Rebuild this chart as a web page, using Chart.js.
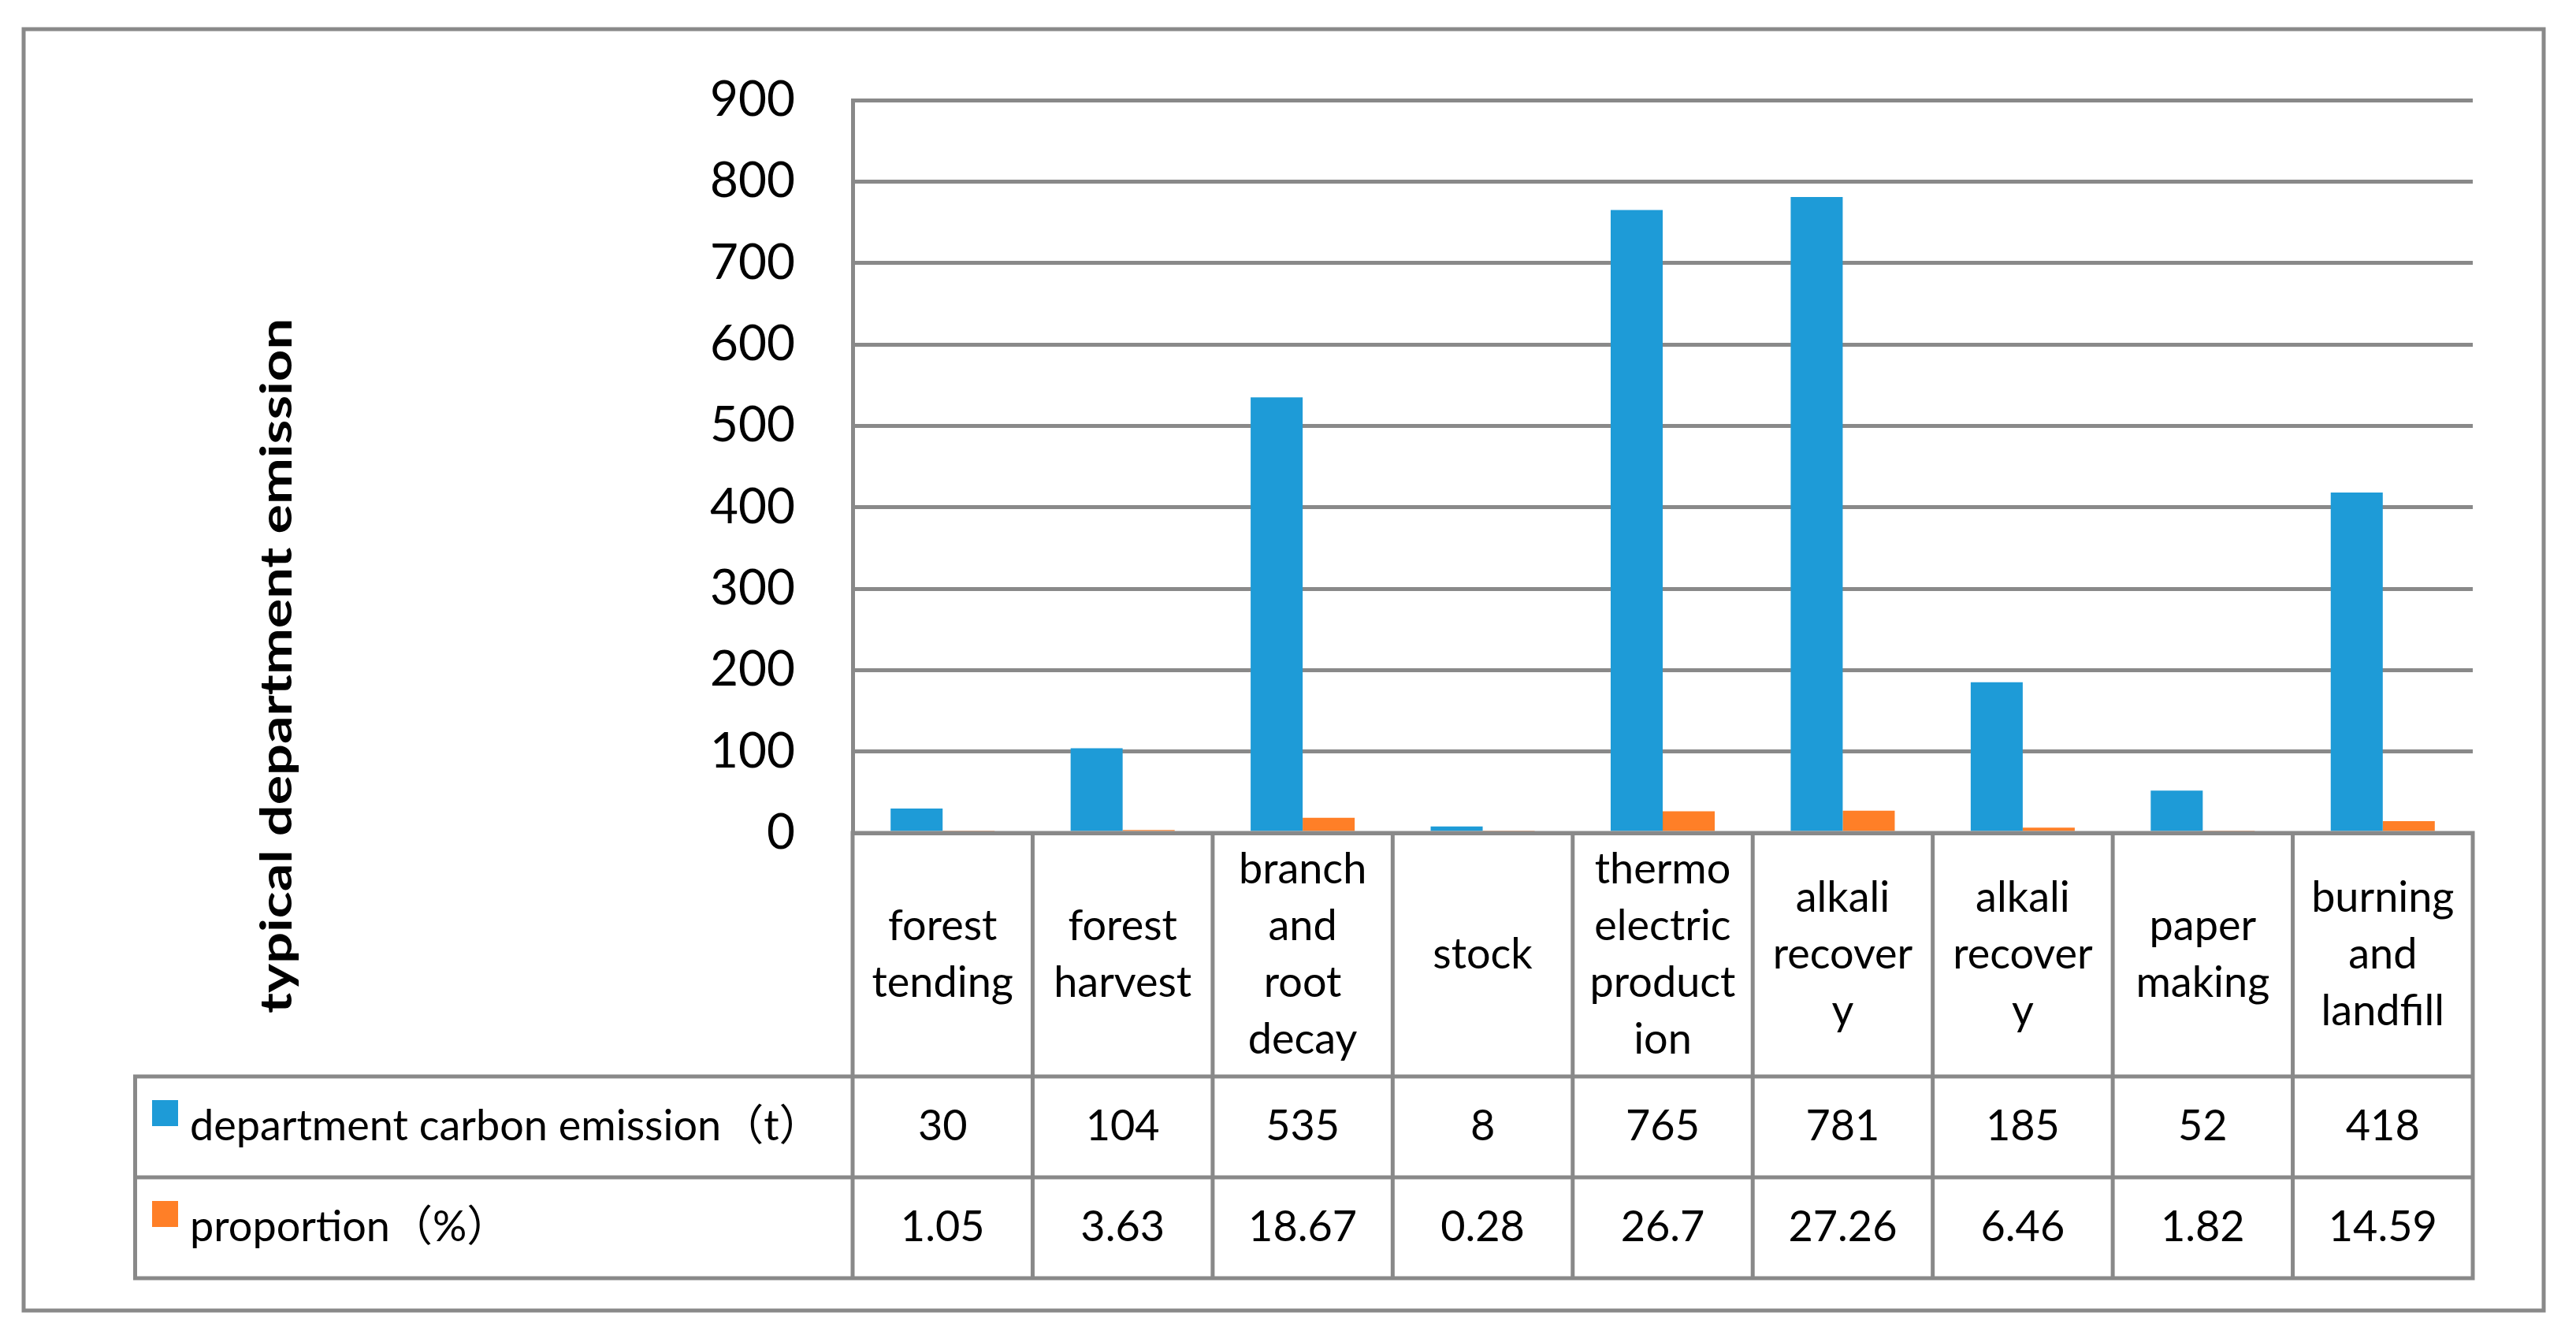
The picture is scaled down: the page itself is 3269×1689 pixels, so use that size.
<!DOCTYPE html>
<html>
<head>
<meta charset="utf-8">
<script src="https://cdn.jsdelivr.net/npm/chart.js@4.4.1/dist/chart.umd.min.js"></script>
<style>
  html, body { margin: 0; padding: 0; background: #fff; }
  canvas { display: block; }
</style>
</head>
<body>
<canvas id="emissionChart" width="3269" height="1689"></canvas>
<script>
// category names, wrapped the way the table cells wrap them
const categories = [
    ['forest', 'tending'],
    ['forest', 'harvest'],
    ['branch', 'and', 'root', 'decay'],
    ['stock'],
    ['thermo', 'electric', 'product', 'ion'],
    ['alkali', 'recover', 'y'],
    ['alkali', 'recover', 'y'],
    ['paper', 'making'],
    ['burning', 'and', 'landfill']
];
const emission = [30, 104, 535, 8, 765, 781, 185, 52, 418];
const proportion = [1.05, 3.63, 18.67, 0.28, 26.7, 27.26, 6.46, 1.82, 14.59];
const seriesNames = ['department carbon emission（t）', 'proportion（%）'];
const yTicks = [0, 100, 200, 300, 400, 500, 600, 700, 800, 900];
const yTitle = 'typical department emission';

const seriesColors = ['#1E9BD7', '#FF7F27'];
const lineColor = '#898989';
const textFont = "Lato, 'Noto Sans CJK SC', sans-serif";

// draws the data table under the plot, the frame and the rotated axis title
const tablePlugin = {
    id: 'dataTable',
    afterDraw(chart) {
        const { ctx, chartArea } = chart;
        const x = chart.scales.x;
        const n = categories.length;
        const step = x.getPixelForValue(1) - x.getPixelForValue(0);
        const left = x.getPixelForValue(0) - step / 2;
        const right = x.getPixelForValue(n - 1) + step / 2;
        const top = chartArea.bottom;
        const headBottom = top + 309;
        const rowH = 128;
        const bottom = headBottom + rowH * 2;
        const legendLeft = 171.5;

        ctx.save();
        ctx.strokeStyle = lineColor;
        ctx.lineWidth = 5;
        ctx.lineCap = 'square';
        ctx.beginPath();
        // axis line sits over the bar bases
        ctx.moveTo(left, top);
        ctx.lineTo(right, top);
        for (let i = 0; i <= n; i++) {
            const xx = left + i * step;
            ctx.moveTo(xx, top);
            ctx.lineTo(xx, bottom);
        }
        ctx.moveTo(legendLeft, headBottom);
        ctx.lineTo(legendLeft, bottom);
        for (let r = 0; r <= 2; r++) {
            const yy = headBottom + r * rowH;
            ctx.moveTo(legendLeft, yy);
            ctx.lineTo(right, yy);
        }
        ctx.stroke();

        // chart border
        ctx.lineCap = 'butt';
        ctx.strokeRect(30, 37, 3198, 1626);

        // category header cells
        ctx.fillStyle = '#000';
        ctx.font = '54px ' + textFont;
        ctx.textAlign = 'center';
        ctx.textBaseline = 'alphabetic';
        const mid = (top + headBottom) / 2;
        categories.forEach((lines, i) => {
            const cx = x.getPixelForValue(i);
            lines.forEach((line, j) => {
                const by = mid + 17 + (j - (lines.length - 1) / 2) * 72;
                ctx.fillText(line, cx, by);
            });
        });

        // value rows
        [emission, proportion].forEach((values, r) => {
            const by = headBottom + r * rowH + rowH / 2 + 17;
            values.forEach((v, i) => {
                ctx.fillText(String(v), x.getPixelForValue(i), by);
            });
            ctx.fillStyle = seriesColors[r];
            ctx.fillRect(193, by - 51, 33, 33);
            ctx.fillStyle = '#000';
            ctx.textAlign = 'left';
            ctx.fillText(seriesNames[r], 241, by);
            ctx.textAlign = 'center';
        });

        // y axis title
        ctx.translate(370, 845);
        ctx.rotate(-Math.PI / 2);
        ctx.font = 'bold 56px ' + textFont;
        const w = ctx.measureText(yTitle).width;
        ctx.scale(882 / w, 1);
        ctx.fillText(yTitle, 0, 0);
        ctx.restore();
    }
};

new Chart(document.getElementById('emissionChart'), {
    type: 'bar',
    data: {
        labels: categories.map(c => c.join(' ')),
        datasets: [
            {
                label: seriesNames[0],
                data: emission,
                backgroundColor: seriesColors[0]
            },
            {
                label: seriesNames[1],
                data: proportion,
                backgroundColor: seriesColors[1]
            }
        ]
    },
    options: {
        responsive: false,
        devicePixelRatio: 1,
        animation: false,
        datasets: {
            bar: { categoryPercentage: 0.578, barPercentage: 1 }
        },
        layout: {
            padding: { left: 0, top: 127, right: 131, bottom: 632 }
        },
        plugins: {
            legend: { display: false },
            tooltip: { enabled: false }
        },
        scales: {
            x: { display: false },
            y: {
                min: yTicks[0],
                max: yTicks[yTicks.length - 1],
                ticks: {
                    stepSize: yTicks[1] - yTicks[0],
                    padding: 73,
                    color: '#000',
                    font: { family: textFont, size: 62 }
                },
                grid: { color: lineColor, lineWidth: 5, drawTicks: false },
                border: { display: true, color: lineColor, width: 5 },
                afterFit(scale) { scale.width = 1082; }
            }
        }
    },
    plugins: [tablePlugin]
});
</script>
</body>
</html>
